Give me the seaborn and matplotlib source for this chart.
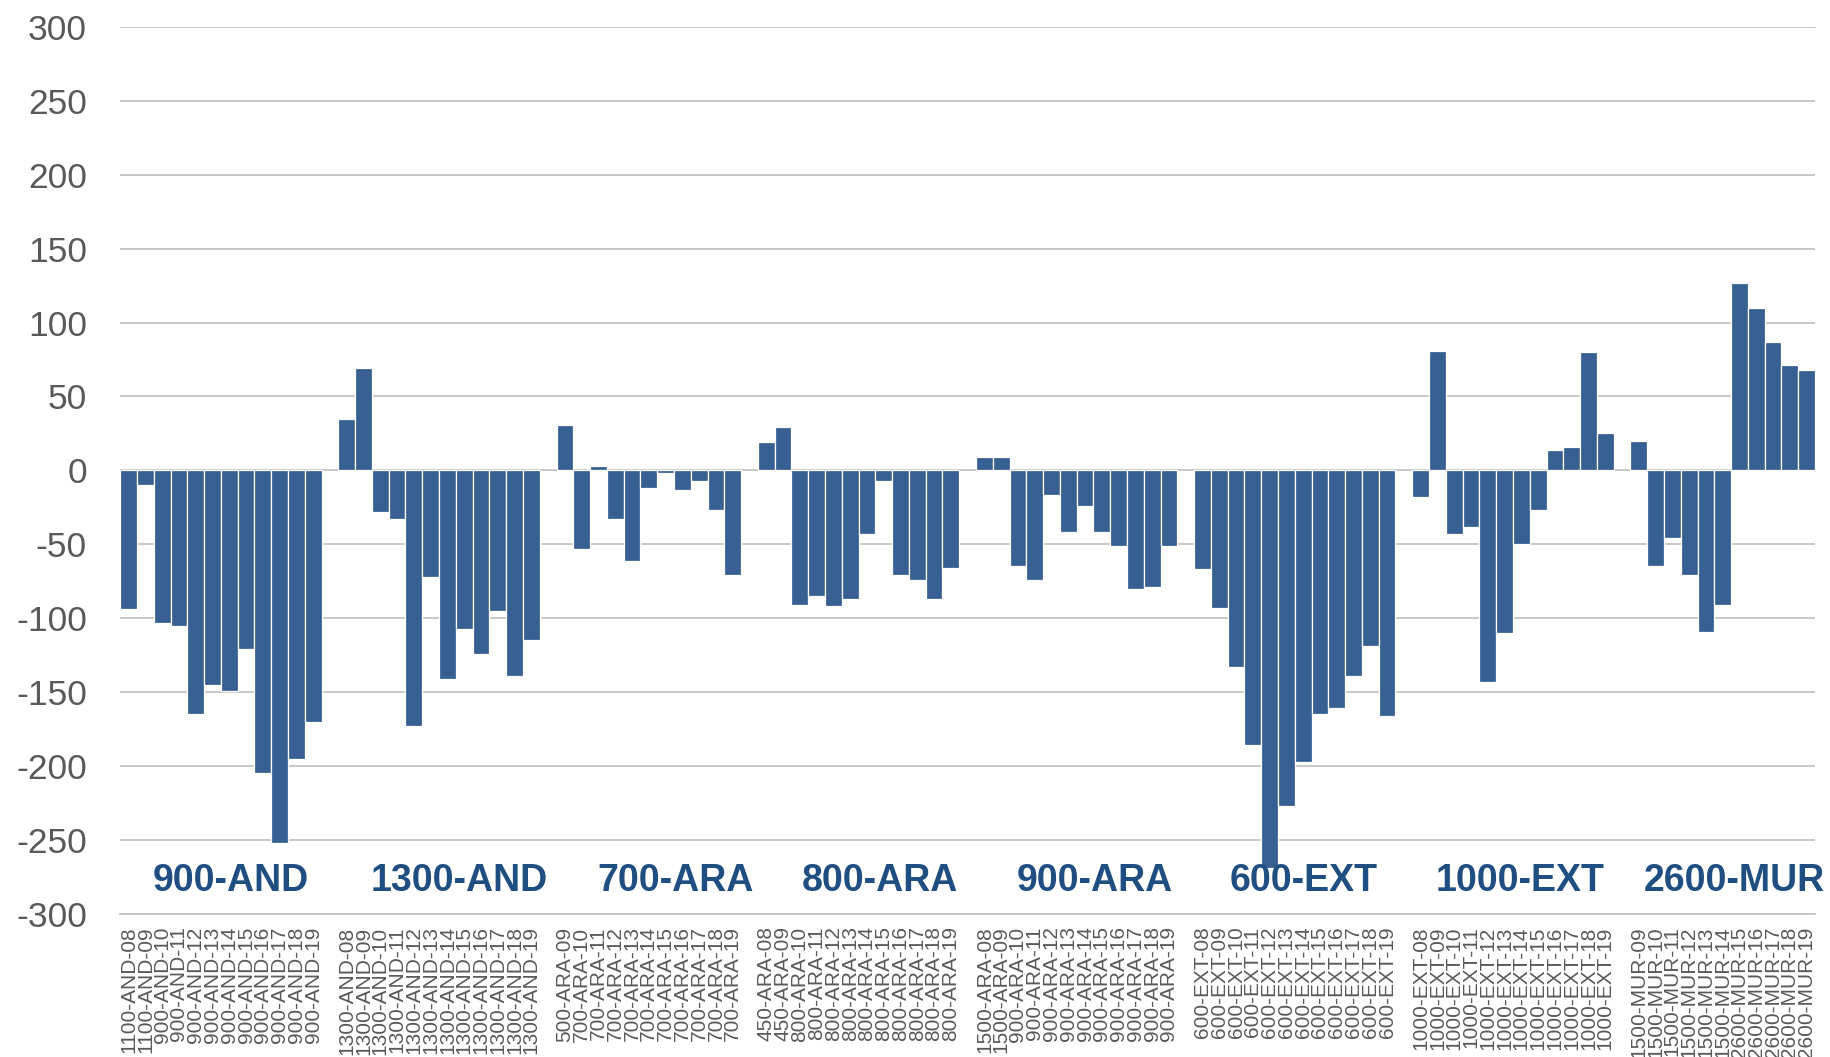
import pandas as pd
import matplotlib
matplotlib.use("Agg")
import matplotlib.pyplot as plt
import seaborn as sns

sns.set_style("white")
plt.rcParams['font.family'] = ['Liberation Sans', 'DejaVu Sans']
plt.rcParams['axes.unicode_minus'] = False

# Group names (drawn inside the chart) and per-group bars
groups = ["900-AND", "1300-AND", "700-ARA", "800-ARA", "900-ARA", "600-EXT", "1000-EXT", "2600-MUR"]

labels_900and = ["1100-AND-08", "1100-AND-09"] + [f"900-AND-{y}" for y in range(10, 20)]
labels_1300and = [f"1300-AND-{y:02d}" for y in range(8, 20)]
labels_700ara = ["500-ARA-09"] + [f"700-ARA-{y}" for y in range(10, 20)]
labels_800ara = ["450-ARA-08", "450-ARA-09"] + [f"800-ARA-{y}" for y in range(10, 20)]
labels_900ara = ["1500-ARA-08", "1500-ARA-09"] + [f"900-ARA-{y}" for y in range(10, 20)]
labels_600ext = [f"600-EXT-{y:02d}" for y in range(8, 20)]
labels_1000ext = [f"1000-EXT-{y:02d}" for y in range(8, 20)]
labels_2600mur = [f"1500-MUR-{y:02d}" for y in range(9, 15)] + [f"2600-MUR-{y}" for y in range(15, 20)]

vals_900and = [-94, -10, -103, -105, -165, -145, -149, -121, -205, -252, -195, -170]
vals_1300and = [35, 69, -28, -33, -173, -72, -141, -107, -124, -95, -139, -115]
vals_700ara = [31, -53, 3, -33, -61, -12, -2, -13, -7, -27, -71]
vals_800ara = [19, 29, -91, -85, -92, -87, -43, -7, -71, -74, -87, -66]
vals_900ara = [9, 9, -65, -74, -17, -42, -24, -42, -51, -80, -79, -51]
vals_600ext = [-67, -93, -133, -186, -269, -227, -197, -165, -161, -139, -119, -166]
vals_1000ext = [-18, 81, -43, -38, -143, -110, -50, -27, 14, 16, 80, 25]
vals_2600mur = [20, -65, -46, -71, -109, -91, 127, 110, 87, 71, 68]

all_labels = [labels_900and, labels_1300and, labels_700ara, labels_800ara,
              labels_900ara, labels_600ext, labels_1000ext, labels_2600mur]
all_vals = [vals_900and, vals_1300and, vals_700ara, vals_800ara,
            vals_900ara, vals_600ext, vals_1000ext, vals_2600mur]

# build category order with one empty slot between groups
order, rows, centers = [], [], []
for gi, (labs, vals) in enumerate(zip(all_labels, all_vals)):
    if gi > 0:
        order.append(" " * gi)
    start = len(order)
    order += labs
    centers.append((start + len(order) - 1) / 2)
    rows += list(zip(labs, vals))
df = pd.DataFrame(rows, columns=["item", "value"])

label_shift = [0.6, 1.2, 1.6, 1.3, 1.1, 0.5, 0.4, 0.7]

fig = plt.figure(figsize=(18.3, 10.57), dpi=100)
ax = fig.add_axes([0.0657, 0.1354, 0.9261, 0.8392])

sns.barplot(data=df, x="item", y="value", order=order, color="#376092",
            saturation=1, width=1.0, edgecolor="white", linewidth=0.9, ax=ax)

ax.set_ylim(-300, 300)
ax.set_yticks(range(-300, 301, 50))
ax.set_xlim(-0.5, len(order) - 0.5)
ax.set_xlabel("")
ax.set_ylabel("")
ax.grid(axis="y", color="#BFBFBF", linewidth=1.2)
ax.set_axisbelow(True)
for s in ["top", "right", "left"]:
    ax.spines[s].set_visible(False)
ax.spines["bottom"].set_color("#BFBFBF")
ax.spines["bottom"].set_linewidth(1.2)

ax.tick_params(axis="x", labelrotation=90, length=0, pad=9, labelsize=15, labelcolor="#595959")
ax.tick_params(axis="y", length=0, pad=24, labelsize=25.5, labelcolor="#595959")

for name, c, sh in zip(groups, centers, label_shift):
    ax.text(c + sh, -278, name, ha="center", va="center", fontsize=27,
            fontweight="bold", color="#1F4E82", clip_on=False)

fig.savefig("out.png", dpi=100)
